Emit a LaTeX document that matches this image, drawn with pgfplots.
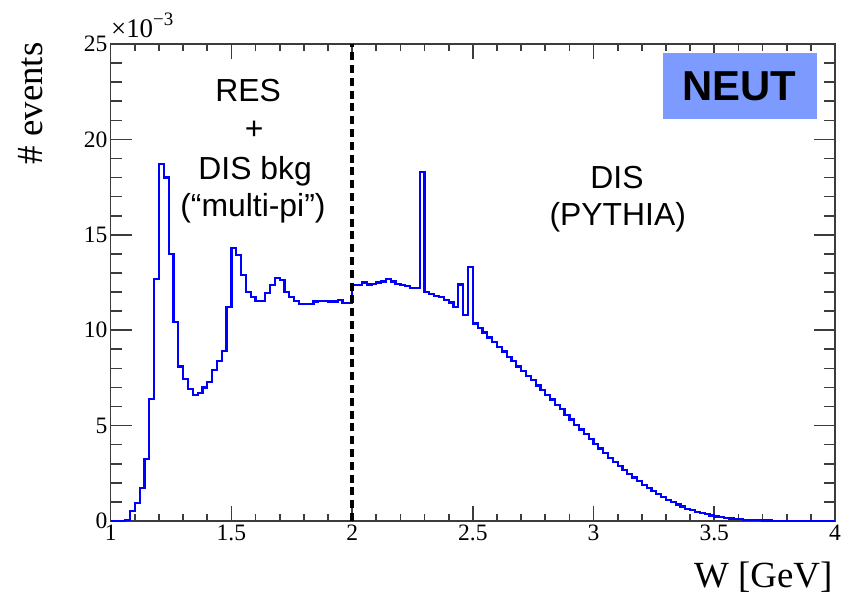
\documentclass[border=0pt]{standalone}
\usepackage{fontspec}
\setmainfont{Liberation Serif}
\newfontfamily\arialfont{Liberation Sans}
\usepackage{pgfplots}
\pgfplotsset{compat=1.18}
\usepackage{pgfplotstable}
\definecolor{histblue}{RGB}{0,0,255}
\definecolor{neutbox}{RGB}{125,155,255}
\definecolor{framegray}{RGB}{60,60,60}

\pgfplotstableread{
W N
1.00 0
1.02 0
1.04 0
1.06 0.05
1.08 0.52
1.10 0.96
1.12 1.71
1.14 3.23
1.16 6.38
1.18 12.7
1.20 18.7
1.22 18.0
1.24 14.0
1.26 10.45
1.28 8.1
1.30 7.45
1.32 6.9
1.34 6.6
1.36 6.7
1.38 7.0
1.40 7.3
1.42 7.9
1.44 8.4
1.46 8.92
1.48 11.2
1.50 14.3
1.52 13.95
1.54 12.9
1.56 12.0
1.58 11.76
1.60 11.55
1.62 11.55
1.64 11.93
1.66 12.37
1.68 12.72
1.70 12.63
1.72 12.02
1.74 11.76
1.76 11.55
1.78 11.37
1.80 11.37
1.82 11.37
1.84 11.5
1.86 11.55
1.88 11.55
1.90 11.5
1.92 11.5
1.94 11.6
1.96 11.44
1.98 11.44
2.00 12.37
2.02 12.35
2.04 12.5
2.06 12.4
2.08 12.42
2.10 12.5
2.12 12.55
2.14 12.7
2.16 12.55
2.18 12.42
2.20 12.35
2.22 12.3
2.24 12.2
2.26 12.2
2.28 18.3
2.30 12.0
2.32 11.9
2.34 11.8
2.36 11.72
2.38 11.6
2.40 11.45
2.42 11.2
2.44 12.4
2.46 10.8
2.48 13.3
2.50 10.35
2.52 10.12
2.54 9.88
2.56 9.62
2.58 9.38
2.60 9.12
2.62 8.88
2.64 8.6
2.66 8.38
2.68 8.1
2.70 7.87
2.72 7.6
2.74 7.38
2.76 7.1
2.78 6.87
2.80 6.6
2.82 6.37
2.84 6.1
2.86 5.86
2.88 5.56
2.90 5.32
2.92 5.04
2.94 4.8
2.96 4.54
2.98 4.3
3.00 4.05
3.02 3.8
3.04 3.56
3.06 3.3
3.08 3.1
3.10 2.87
3.12 2.68
3.14 2.46
3.16 2.28
3.18 2.08
3.20 1.9
3.22 1.73
3.24 1.56
3.26 1.41
3.28 1.26
3.30 1.12
3.32 0.99
3.34 0.87
3.36 0.76
3.38 0.65
3.40 0.56
3.42 0.48
3.44 0.41
3.46 0.35
3.48 0.29
3.50 0.24
3.52 0.2
3.54 0.16
3.56 0.13
3.58 0.11
3.60 0.09
3.62 0.07
3.64 0.06
3.66 0.05
3.68 0.04
3.70 0.03
3.72 0.025
3.74 0.02
3.76 0.015
3.78 0.01
3.80 0.008
3.82 0.006
3.84 0.005
3.86 0.004
3.88 0.003
3.90 0.002
3.92 0.002
3.94 0.001
3.96 0.001
3.98 0.001
4.00 0.001
}\histdata

\begin{document}
\begin{tikzpicture}
\begin{axis}[
  scale only axis,
  width=362.15bp, height=238.5bp,
  xmin=1, xmax=4, ymin=0, ymax=25,
  xtick={1,1.5,2,2.5,3,3.5,4},
  xticklabels={1,1.5,2,2.5,3,3.5,4},
  ytick={0,5,10,15,20,25},
  yticklabels={0,5,10,15,20,25},
  minor x tick num=4, minor y tick num=4,
  tick align=inside,
  axis line style={framegray, line width=0.8bp},
  every tick/.style={framegray, line width=0.8bp},
  xtick style={/pgfplots/major tick length=7.5bp,/pgfplots/minor tick length=3.5bp},
  ytick style={/pgfplots/major tick length=10.5bp,/pgfplots/minor tick length=5.5bp},
  /pgf/number format/assume math mode=true,
  xticklabel style={font=\fontsize{11.8}{14}\selectfont, inner sep=0pt, yshift=-2bp},
  yticklabel style={font=\fontsize{11.8}{14}\selectfont, inner sep=0pt, xshift=-1.5bp},
  scaled y ticks=false,
  xlabel={W [GeV]},
  xlabel style={at={(rel axis cs:0.9968,-0.1384)}, anchor=base east, inner sep=0pt, font=\fontsize{18.5}{22}\selectfont},
  ylabel={\# events},
  ylabel style={at={(rel axis cs:-0.0935,1.004)}, anchor=base east, inner sep=0pt, font=\fontsize{18.5}{22}\selectfont},
]
\fill[neutbox] (axis cs:3.287,21.05) rectangle (axis cs:3.925,24.51);
\node[font=\arialfont\bfseries\fontsize{21}{25}\selectfont, inner sep=0pt] at (axis cs:3.603,22.76) {NEUT};

\addplot[histblue, line width=1.1bp, const plot mark left, line join=miter] table[x=W,y=N] {\histdata};

\addplot[black, line width=1.7bp, dash pattern=on 4bp off 2.4bp] coordinates {(2,0) (2,25)};

\node[anchor=base, inner sep=0pt, font=\arialfont\fontsize{16}{19}\selectfont] at (axis cs:1.569,21.98) {RES};
\node[anchor=base, inner sep=0pt, font=\arialfont\fontsize{16}{19}\selectfont] at (axis cs:1.594,19.97) {+};
\node[anchor=base, inner sep=0pt, font=\arialfont\fontsize{16}{19}\selectfont] at (axis cs:1.598,17.92) {DIS bkg};
\node[anchor=base, inner sep=0pt, font=\arialfont\fontsize{16}{19}\selectfont] at (axis cs:1.589,15.95) {(“multi-pi”)};
\node[anchor=base, inner sep=0pt, font=\arialfont\fontsize{16}{19}\selectfont] at (axis cs:3.097,17.44) {DIS};
\node[anchor=base, inner sep=0pt, font=\arialfont\fontsize{16}{19}\selectfont] at (axis cs:3.10,15.51) {(PYTHIA)};
\end{axis}
\node[anchor=base west, inner sep=0pt, font=\fontsize{13.5}{16}\selectfont] at ([yshift=3.4bp]current axis.north west) {×10\raisebox{0.45em}{\fontsize{9.5}{11}\selectfont −3}};
\pgfresetboundingbox
\path[use as bounding box] ([shift={(-55.35bp,-38.5bp)}]current axis.south west) rectangle ([shift={(9.5bp,22bp)}]current axis.north east);
\end{tikzpicture}
\end{document}
